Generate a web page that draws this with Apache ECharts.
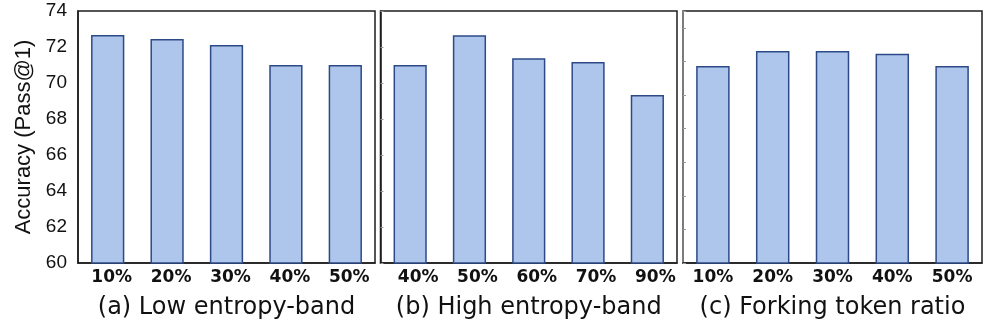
<!DOCTYPE html>
<html>
<head>
<meta charset="utf-8">
<script src="https://cdn.jsdelivr.net/npm/echarts@6/dist/echarts.min.js"></script>
<style>html,body{margin:0;padding:0;background:#fff}#c{width:996px;height:332px}</style>
</head>
<body>
<div id="c"></div>
<script>
const catsA = ['10%', '20%', '30%', '40%', '50%'];
const valsA = [72.67, 72.45, 72.11, 71.0, 71.0];
const catsB = ['40%', '50%', '60%', '70%', '90%'];
const valsB = [71.0, 72.65, 71.37, 71.17, 69.33];
const catsC = ['10%', '20%', '30%', '40%', '50%'];
const valsC = [71.72, 72.62, 72.62, 72.45, 71.72];
const titles = ['(a) Low entropy-band', '(b) High entropy-band', '(c) Forking token ratio'];
const yTitle = 'Accuracy (Pass@1)';

const grids = [
  {left: 78, top: 11, width: 297, height: 252},
  {left: 380.5, top: 11, width: 296.5, height: 252},
  {left: 683, top: 11, width: 299, height: 252}
];
const cats = [catsA, catsB, catsC];
const vals = [valsA, valsB, valsC];
const labelPad = [[0,0,0,8],[0,0,0,16],[0,0,0,0]];
const yMax = [74, 74, 75];

const chart = echarts.init(document.getElementById('c'), null, {renderer: 'canvas'});
const option = {
  animation: false,
  backgroundColor: '#fff',
  grid: grids.map(g => Object.assign({show: true, borderColor: '#1e1e1e', borderWidth: 1.5, backgroundColor: 'transparent'}, g)),
  xAxis: cats.map((c, i) => ({
    type: 'category', gridIndex: i, data: c,
    axisLine: {show: true, lineStyle: {color: '#1e1e1e', width: 1.5}},
    axisTick: {show: false},
    axisLabel: {fontFamily: 'DejaVu Sans', fontWeight: 'bold', fontSize: 17, color: '#111', margin: 6, padding: labelPad[i]},
    name: titles[i], nameLocation: 'middle', nameGap: 33,
    nameTextStyle: {fontFamily: 'DejaVu Sans', fontSize: 24, color: '#111'}
  })),
  yAxis: [0, 1, 2].map(i => ({
    type: 'value', gridIndex: i, min: 60, max: yMax[i], interval: 2,
    splitLine: {show: false},
    axisLine: {show: true, lineStyle: {color: i === 2 ? '#8a8a8a' : '#1e1e1e', width: 1.5}},
    axisTick: i === 0 ? {show: false} : {show: true, inside: true, length: 3, lineStyle: {color: '#999', width: 1}},
    axisLabel: i === 0 ? {show: true, fontFamily: 'Liberation Sans', fontSize: 19, color: '#111', margin: 11} : {show: false},
    name: i === 0 ? yTitle : '',
    nameLocation: 'middle', nameGap: 43, nameRotate: 90,
    nameTextStyle: {fontFamily: 'Liberation Sans', fontSize: 22, color: '#111'}
  })),
  series: vals.map((v, i) => ({
    type: 'bar', xAxisIndex: i, yAxisIndex: i, data: v,
    barCategoryGap: '44%',
    itemStyle: {color: '#aec6eb', borderColor: '#2c4a88', borderWidth: 1.5}
  }))
};
chart.setOption(option);
</script>
</body>
</html>
